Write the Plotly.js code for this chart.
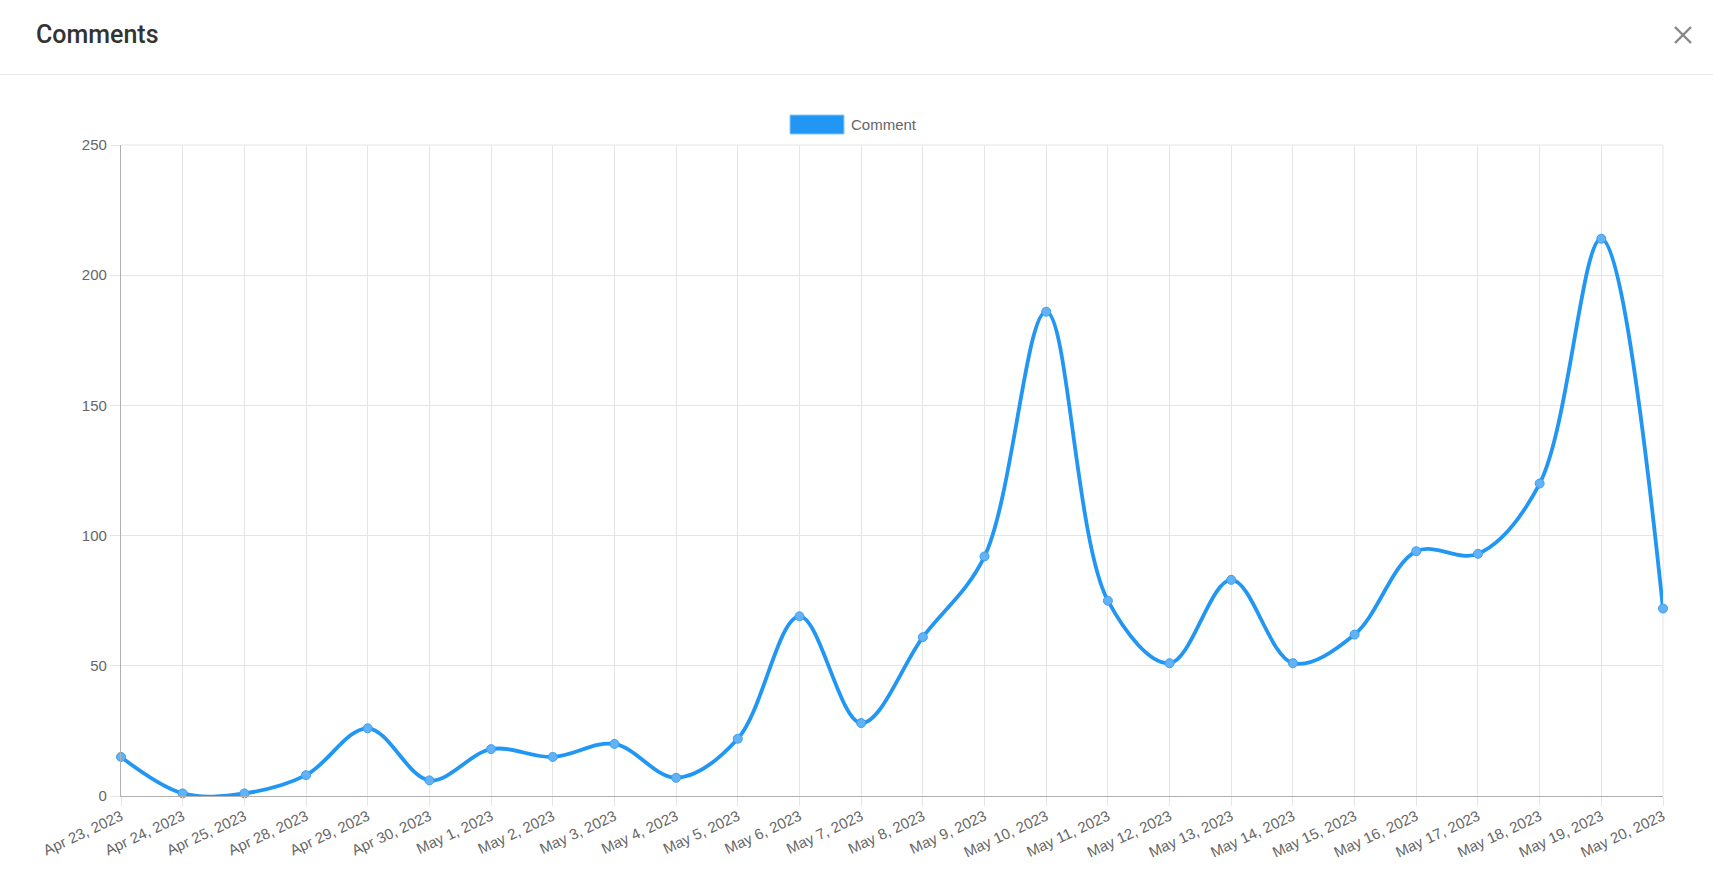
<!DOCTYPE html>
<html>
<head>
<meta charset="utf-8">
<script src="https://cdn.plot.ly/plotly-3.0.1.min.js"></script>
<style>
  html, body { margin: 0; padding: 0; background: #fff; }
  #wrap { position: relative; width: 1713px; height: 872px; overflow: hidden; }
  #chart { position: absolute; left: 0; top: 0; width: 1713px; height: 872px; }
  #header { position: absolute; left: 0; top: 0; width: 1713px; height: 74px; border-bottom: 1px solid #e9e9e9; z-index: 5; pointer-events: none; }
  #title { position: absolute; left: 36px; top: 20px; font-family: Roboto, "Noto Sans", sans-serif; font-weight: 500; font-size: 25px; color: #333; }
  #close { position: absolute; left: 1674px; top: 26px; }
</style>
</head>
<body>
<div id="wrap">
  <div id="chart"></div>
  <div id="header">
    <div id="title">Comments</div>
    <svg id="close" width="18" height="18" viewBox="0 0 18 18">
      <line x1="1" y1="1" x2="17" y2="17" stroke="#888" stroke-width="2.4"/>
      <line x1="17" y1="1" x2="1" y2="17" stroke="#888" stroke-width="2.4"/>
    </svg>
  </div>
</div>
<script>
const seriesName = "Comment";
const dates = [
  "Apr 23, 2023", "Apr 24, 2023", "Apr 25, 2023", "Apr 28, 2023", "Apr 29, 2023",
  "Apr 30, 2023", "May 1, 2023", "May 2, 2023", "May 3, 2023", "May 4, 2023",
  "May 5, 2023", "May 6, 2023", "May 7, 2023", "May 8, 2023", "May 9, 2023",
  "May 10, 2023", "May 11, 2023", "May 12, 2023", "May 13, 2023", "May 14, 2023",
  "May 15, 2023", "May 16, 2023", "May 17, 2023", "May 18, 2023", "May 19, 2023",
  "May 20, 2023"
];
const comments = [
  15, 1, 1, 8, 26,
  6, 18, 15, 20, 7,
  22, 69, 28, 61, 92,
  186, 75, 51, 83, 51,
  62, 94, 93, 120, 214,
  72
];
const yTicks = [0, 50, 100, 150, 200, 250];

const blue = "#2196F3";
const grid = "#e5e5e5";
const tickFont = { family: "Liberation Sans, Arial, sans-serif", size: 15, color: "#666" };

const trace = {
  type: "scatter",
  mode: "lines+markers",
  name: seriesName,
  x: dates,
  y: comments,
  line: { color: blue, width: 3.8, shape: "spline", smoothing: 1 },
  marker: { size: 9, color: "#64b2f6", line: { color: "#3a9ff4", width: 1 } },
  cliponaxis: false,
  showlegend: false,
  hoverinfo: "x+y"
};

const L = 121, R = 50, T = 145, B = 76;
const W = 1713, H = 872;
const pw = W - L - R, ph = H - T - B;
const px = v => (v - L) / pw;
const py = v => (H - B - v) / ph;

const layout = {
  width: W, height: H,
  margin: { l: L, r: R, t: T, b: B, pad: 0 },
  paper_bgcolor: "#fff",
  plot_bgcolor: "#fff",
  showlegend: false,
  xaxis: {
    type: "category",
    categoryorder: "array",
    categoryarray: dates,
    range: [0, dates.length - 1],
    showgrid: true, gridcolor: grid, gridwidth: 1,
    showline: true, linecolor: "#b0b0b0", linewidth: 1.2,
    ticks: "outside", ticklen: 9, tickcolor: grid,
    ticklabelstandoff: -4,
    tickangle: -25,
    tickfont: tickFont,
    zeroline: false,
    fixedrange: true
  },
  yaxis: {
    range: [0, 250],
    tickvals: yTicks,
    ticktext: yTicks.map(String),
    showgrid: true, gridcolor: grid, gridwidth: 1,
    showline: true, linecolor: "#b0b0b0", linewidth: 1.2,
    ticks: "outside", ticklen: 10, tickcolor: grid,
    tickfont: tickFont,
    zeroline: false,
    fixedrange: true
  },
  shapes: [
    { type: "line", xref: "paper", yref: "paper", x0: 0, x1: 1, y0: 1, y1: 1, line: { color: grid, width: 1 }, layer: "below" },
    { type: "line", xref: "paper", yref: "paper", x0: 1, x1: 1, y0: 0, y1: 1, line: { color: grid, width: 1 }, layer: "below" },
    { type: "rect", xref: "paper", yref: "paper", x0: px(790), x1: px(844), y0: py(134), y1: py(115),
      fillcolor: blue, line: { color: "#8cc8f8", width: 1 } }
  ],
  annotations: [
    { xref: "paper", yref: "paper", x: px(849), y: py(124.5), xanchor: "left", yanchor: "middle",
      text: seriesName, showarrow: false, font: { family: "Liberation Sans, Arial, sans-serif", size: 15, color: "#666" } }
  ]
};

Plotly.newPlot("chart", [trace], layout, { displayModeBar: false, staticPlot: false });
</script>
</body>
</html>
